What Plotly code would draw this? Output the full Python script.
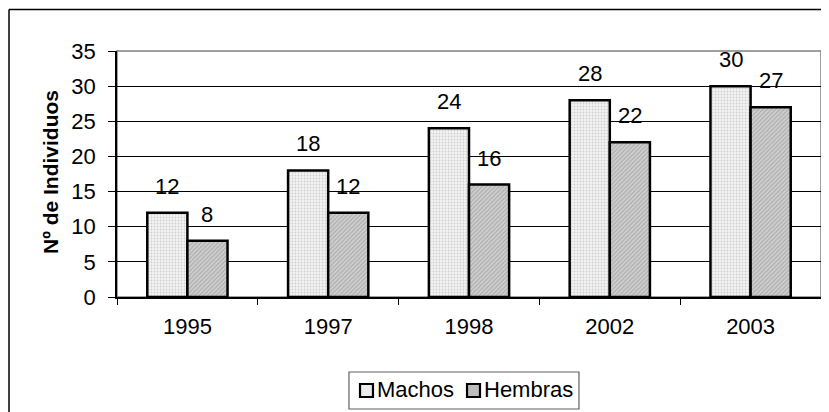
import plotly.graph_objects as go

years = ["1995", "1997", "1998", "2002", "2003"]
machos = [12, 18, 24, 28, 30]
hembras = [8, 12, 16, 22, 27]
series_names = ["Machos", "Hembras"]
y_title = "Nº de Individuos"

FONT = "Liberation Sans, Arial, sans-serif"
FS = 22

fills = [dict(color="#f2f2f2", pattern=dict(shape=".", fgcolor="#a8a8a8", bgcolor="#f4f4f4", size=3, solidity=0.3)),
         dict(color="#c0c0c0", pattern=dict(shape="/", fgcolor="#888888", bgcolor="#d0d0d0", size=3, solidity=0.4))]
legend_fill = ["#ececec", "#bdbdbd"]

fig = go.Figure()
for name, vals, f in zip(series_names, (machos, hembras), fills):
    fig.add_trace(go.Bar(
        name=name, x=years, y=vals, showlegend=False,
        marker=dict(color=f["color"], line=dict(color="black", width=2.5), pattern=f["pattern"]),
    ))

for vals, shift in ((machos, -20), (hembras, 20)):
    for i, v in enumerate(vals):
        fig.add_annotation(x=i, y=v, text=str(v), showarrow=False,
                           xshift=shift, yshift=12, yanchor="bottom",
                           font=dict(family=FONT, size=FS, color="black"))

# y-axis title
fig.add_annotation(xref="paper", yref="paper", x=-0.0945, y=0.51, text="<b>" + y_title + "</b>",
                   textangle=-90, showarrow=False, xanchor="center", yanchor="middle",
                   font=dict(family=FONT, size=FS - 1, color="black"))

# plot area border (gray top/right)
fig.add_shape(type="rect", xref="paper", yref="paper", x0=0, y0=0, x1=1, y1=1,
              line=dict(color="#808080", width=1.5), layer="below")
# outer chart border (left/top visible)
fig.add_shape(type="line", xref="paper", yref="paper", x0=-0.1534, y0=1.169, x1=1.05, y1=1.169,
              line=dict(color="black", width=1.5))
fig.add_shape(type="line", xref="paper", yref="paper", x0=-0.1534, y0=1.169, x1=-0.1534, y1=-0.6,
              line=dict(color="black", width=1.5))

# legend (box, swatches, labels)
fig.add_shape(type="rect", xref="paper", yref="paper", x0=0.3295, x1=0.6562, y0=-0.4553, y1=-0.3049,
              line=dict(color="#606060", width=1.2), fillcolor="white")
sw_x = [(0.3452, 0.3636), (0.4972, 0.5156)]
tx_x = [0.3665, 0.5185]
for name, (a, b), tx, col in zip(series_names, sw_x, tx_x, legend_fill):
    fig.add_shape(type="rect", xref="paper", yref="paper", x0=a, x1=b, y0=-0.4065, y1=-0.3537,
                  line=dict(color="black", width=2.2), fillcolor=col)
    fig.add_annotation(xref="paper", yref="paper", x=tx, y=-0.378, text=name, showarrow=False,
                       xanchor="left", yanchor="middle",
                       font=dict(family=FONT, size=FS, color="black"))

fig.update_layout(
    width=821, height=404,
    margin=dict(l=109, r=8, t=43, b=115, autoexpand=False),
    paper_bgcolor="white", plot_bgcolor="white",
    barmode="group", bargap=0.43, bargroupgap=0,
    font=dict(family=FONT, size=FS, color="black"),
    showlegend=False,
    xaxis=dict(type="category", range=[-0.5, len(years) - 0.5], showline=True,
               linecolor="black", linewidth=1.5, ticks="outside",
               tickson="boundaries", ticklen=6, tickcolor="black", showgrid=False,
               tickangle=0, automargin=False, ticklabelstandoff=9,
               tickfont=dict(family=FONT, size=FS)),
    yaxis=dict(range=[0, 35], dtick=5, showline=True, linecolor="black", linewidth=1.5,
               ticks="outside", ticklen=7, tickcolor="black", showgrid=True,
               gridcolor="black", gridwidth=1, zeroline=False, automargin=False,
               ticklabelstandoff=8,
               tickfont=dict(family=FONT, size=FS)),
)

fig.write_html("out.html")
